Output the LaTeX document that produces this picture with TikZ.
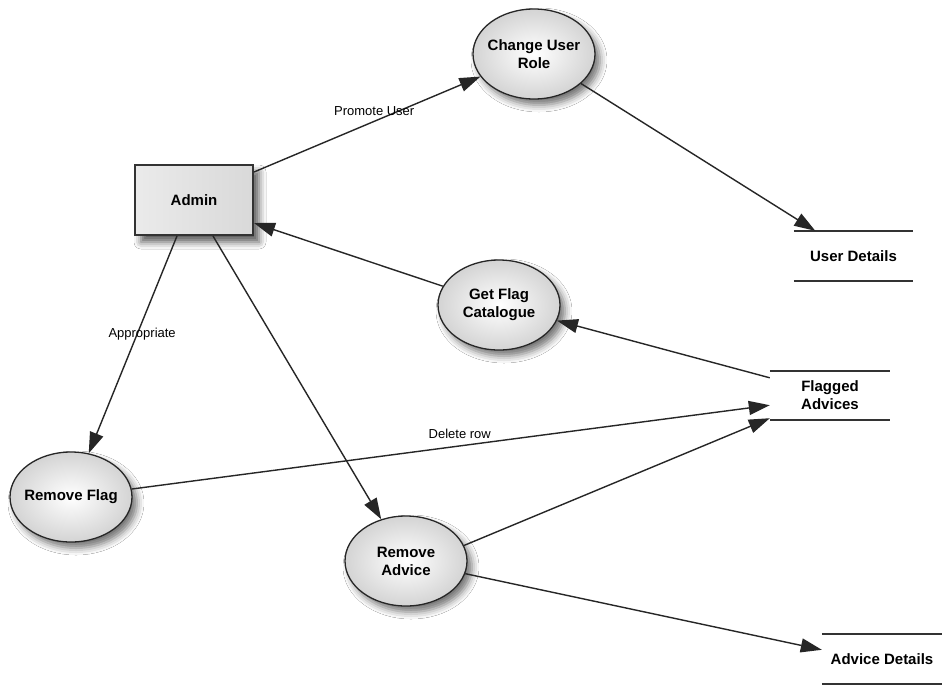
\documentclass[tikz,border=0pt]{standalone}
\usepackage{fontspec}
\setmainfont{Liberation Sans}
\usetikzlibrary{arrows.meta,shapes.geometric,shadows.blur,calc}
\begin{document}
\begin{tikzpicture}[x=1pt,y=-1pt,
  proc/.style={ellipse, draw=black!85, line width=1.3pt, minimum width=122pt, minimum height=90pt,
    inner xsep=-5pt, inner ysep=0pt, align=center, font=\fontsize{15}{18}\selectfont\bfseries,
    inner color=white, outer color=black!17,
    blur shadow={shadow xshift=5pt, shadow yshift=-6pt, shadow blur radius=7pt, shadow opacity=55}},
  ent/.style={rectangle, draw=black!80, line width=2pt, minimum width=118pt, minimum height=70pt,
    font=\fontsize{15}{18}\selectfont\bfseries, left color=black!8, right color=black!15,
    blur shadow={shadow xshift=6pt, shadow yshift=-7pt, shadow blur radius=7pt, shadow opacity=65}},
  store/.style={rectangle, minimum width=120pt, minimum height=50pt, inner sep=0pt, align=center,
    font=\fontsize{15}{18}\selectfont\bfseries},
  storeline/.style={draw=black!80, line width=1.8pt},
  flow/.style={draw=black!85, line width=1.4pt, -{Triangle[length=21pt,width=14pt]}},
  lbl/.style={font=\fontsize{13}{15}\selectfont, inner sep=0pt}
]
\fill[white] (0,0) rectangle (952,694);
\useasboundingbox (0,0) rectangle (952,694);

\node[ent] (admin) at (194,200) {Admin};
\node[proc] (cur) at (534,54) {Change User\\Role};
\node[proc] (gfc) at (499,305) {Get Flag\\Catalogue};
\node[proc] (rf) at (71,497) {Remove Flag};
\node[proc] (ra) at (406,561) {Remove\\Advice};

\node[store, minimum width=119pt] (ud) at (853.5,256) {User Details};
\node[store, minimum height=49pt] (fa) at (830,395.5) {Flagged\\Advices};
\node[store] (ad) at (882,659) {Advice Details};

\foreach \s in {ud,fa,ad}{
  \draw[storeline] (\s.north west) -- (\s.north east);
  \draw[storeline] (\s.south west) -- (\s.south east);
}

\draw[flow] ($(admin.north east)+(0,8)$) -- node[lbl, pos=0.5, xshift=7pt, yshift=13pt] {Promote User} (cur);
\draw[flow] (cur) -- ($(ud.north west)!0.18!(ud.north east)$);
\draw[flow] (gfc) -- ($(admin.south east)+(0,-13)$);
\draw[flow] ($(fa.north west)+(0,7)$) -- (gfc);
\draw[flow] ($(admin.south west)+(43,0)$) -- node[lbl, pos=0.452, xshift=5pt] {Appropriate} (rf);
\draw[flow] ($(admin.south west)+(79,0)$) -- (ra);
\draw[flow] (rf) -- node[lbl, pos=0.5, xshift=9pt, yshift=13pt] {Delete row} ($(fa.south west)+(0,-15)$);
\draw[flow] (ra.15) -- ($(fa.south west)+(0,-2)$);
\draw[flow] (ra) -- ($(ad.north west)+(0,16)$);
\end{tikzpicture}
\end{document}
